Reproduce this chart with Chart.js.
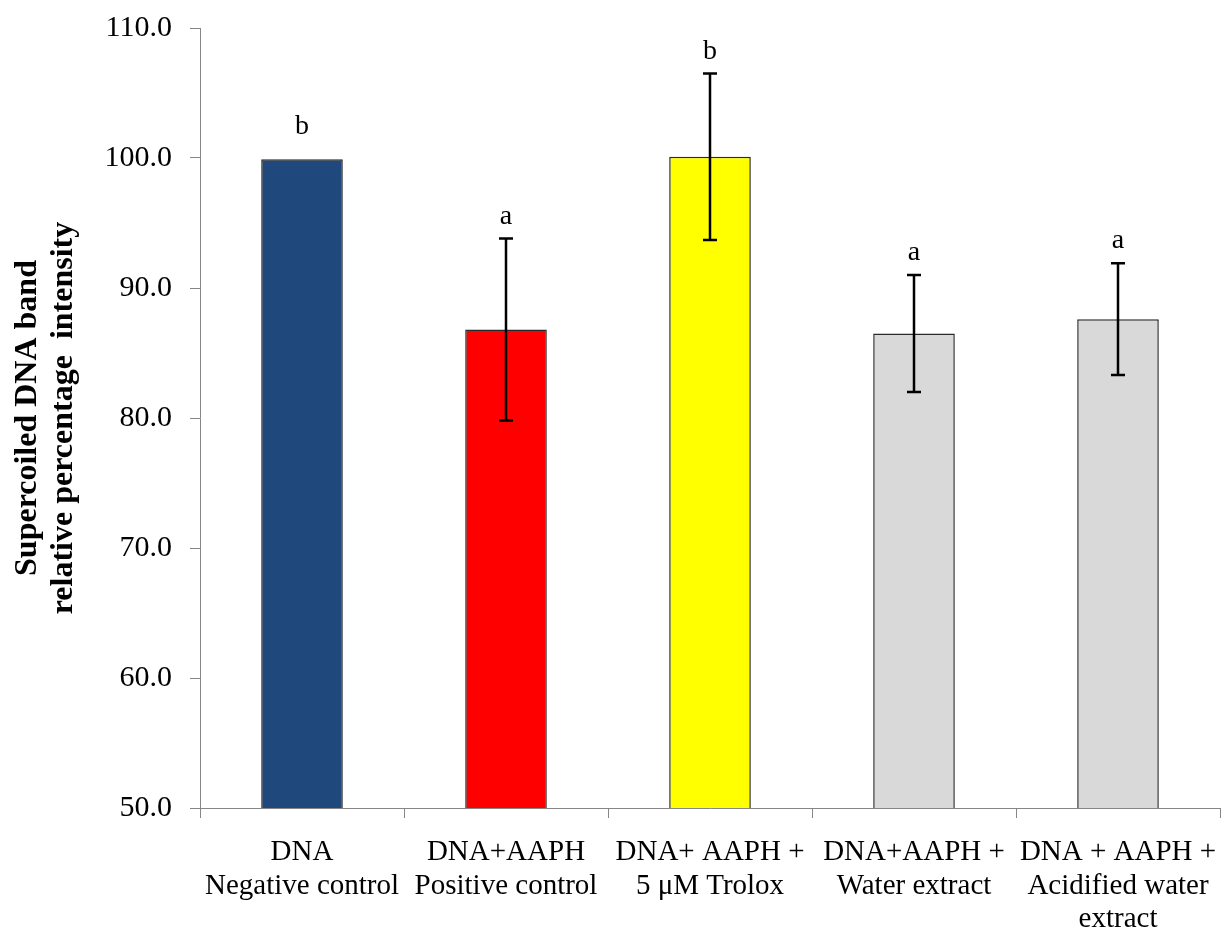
<!DOCTYPE html>
<html>
<head>
<meta charset="utf-8">
<script src="https://cdn.jsdelivr.net/npm/chart.js@4.4.1/dist/chart.umd.min.js"></script>
<style>
  html, body { margin: 0; padding: 0; background: #ffffff; }
  #wrap { width: 1221px; height: 928px; position: relative; }
</style>
</head>
<body>
<div id="wrap"><canvas id="c" width="1221" height="928"></canvas></div>
<script>
// ---- data ----
const categories = [
  ['DNA', 'Negative control'],
  ['DNA+AAPH', 'Positive control'],
  ['DNA+ AAPH +', '5 μM Trolox'],
  ['DNA+AAPH +', 'Water extract'],
  ['DNA + AAPH +', 'Acidified water', 'extract']
];
const values = [99.9, 86.8, 100.1, 86.5, 87.6];
const errors = [0, 7.0, 6.4, 4.5, 4.3];
const letters = ['b', 'a', 'b', 'a', 'a'];
const barColors = ['#1F497D', '#FF0000', '#FFFF00', '#D9D9D9', '#D9D9D9'];
const yTitle = ['Supercoiled DNA band', 'relative percentage  intensity'];
const yMin = 50, yMax = 110, yStep = 10;

const SERIF = "'Liberation Serif', 'Times New Roman', serif";

const errorBarPlugin = {
  id: 'errorBars',
  afterDatasetsDraw(chart) {
    const ctx = chart.ctx;
    const meta = chart.getDatasetMeta(0);
    const y = chart.scales.y;
    ctx.save();
    meta.data.forEach((bar, i) => {
      const x = bar.x;
      const err = errors[i];
      const top = y.getPixelForValue(values[i] + err);
      if (err > 0) {
        const bot = y.getPixelForValue(values[i] - err);
        ctx.strokeStyle = '#000';
        ctx.lineWidth = 2.5;
        ctx.beginPath();
        ctx.moveTo(x, top); ctx.lineTo(x, bot);
        ctx.moveTo(x - 7, top); ctx.lineTo(x + 7, top);
        ctx.moveTo(x - 7, bot); ctx.lineTo(x + 7, bot);
        ctx.stroke();
      }
      ctx.fillStyle = '#000';
      ctx.font = '28px ' + SERIF;
      ctx.textAlign = 'center';
      ctx.textBaseline = 'alphabetic';
      ctx.fillText(letters[i], x, top - (err > 0 ? 15 : 25));
    });
    ctx.restore();
  }
};

new Chart(document.getElementById('c'), {
  type: 'bar',
  data: {
    labels: categories,
    datasets: [{
      data: values,
      backgroundColor: barColors,
      borderColor: '#2a2a2a',
      borderWidth: 1.5,
      borderSkipped: false,
      categoryPercentage: 1.0,
      barPercentage: 0.4
    }]
  },
  options: {
    responsive: false,
    animation: false,
    devicePixelRatio: 1,
    layout: { padding: { top: 28, right: 1, left: 0, bottom: 0 } },
    plugins: { legend: { display: false }, tooltip: { enabled: false } },
    scales: {
      x: {
        offset: true,
        grid: { display: true, drawOnChartArea: false, drawTicks: true, tickLength: 10, color: '#868686', offset: true },
        border: { display: true, color: '#868686', width: 1 },
        ticks: { color: '#000', font: { family: SERIF, size: 29, lineHeight: 1.15 }, padding: 18, maxRotation: 0, autoSkip: false },
        afterFit(s) { s.height = 120; s.paddingLeft = 0; s.paddingRight = 0; }
      },
      y: {
        min: yMin, max: yMax,
        grid: { display: true, drawOnChartArea: false, drawTicks: true, tickLength: 10, color: '#868686' },
        border: { display: true, color: '#868686', width: 1 },
        ticks: { stepSize: yStep, color: '#000', font: { family: SERIF, size: 30 }, padding: 18,
                 callback: v => Number(v).toFixed(1) },
        title: { display: true, text: yTitle, color: '#000',
                 font: { family: SERIF, size: 32, weight: 'bold', lineHeight: 1.15 },
                 padding: { top: 9, bottom: 0 } },
        afterFit(s) { s.width = 200; s.paddingTop = 0; s.paddingBottom = 0; }
      }
    }
  },
  plugins: [errorBarPlugin]
});
</script>
</body>
</html>
